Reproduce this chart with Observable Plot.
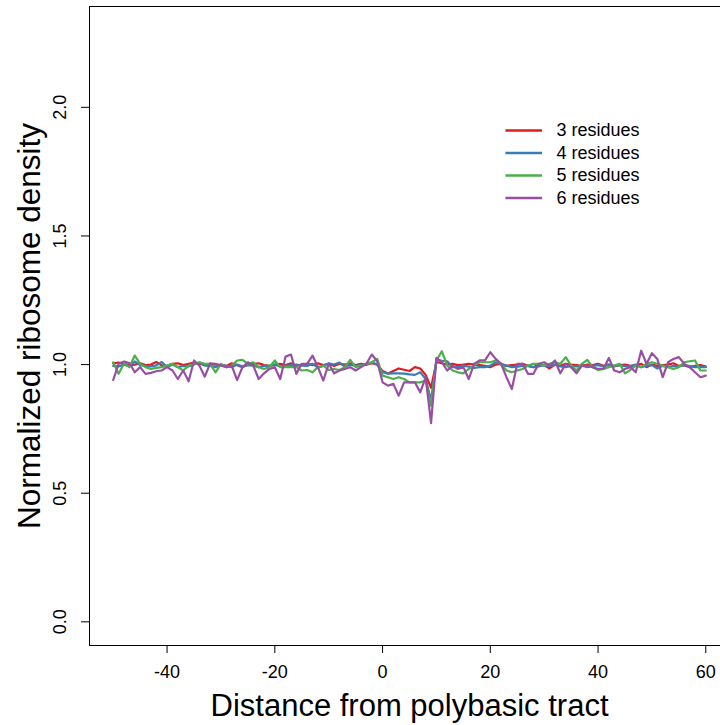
<!DOCTYPE html>
<html>
<head>
<meta charset="utf-8">
<script src="https://cdn.jsdelivr.net/npm/d3@7"></script>
<script src="https://cdn.jsdelivr.net/npm/@observablehq/plot@0.6"></script>
<style>
  html, body { margin: 0; padding: 0; background: white; overflow: hidden; }
  #chart { width: 720px; height: 725px; overflow: hidden; }
  #chart svg { max-width: none !important; }
</style>
</head>
<body>
<div id="chart"></div>
<script>
// ---- Data ----
const positions = d3.range(-50, 61); // -50 .. 60

const series = ["3 residues", "4 residues", "5 residues", "6 residues"];
const colors = ["#E41A1C", "#377EB8", "#4DAF4A", "#984EA3"];

const res3 = [
  1.005, 1.008, 1.003, 0.998, 1.000, 1.005, 0.998, 1.000, 1.010, 0.997,
  0.995, 1.003, 1.005, 0.998, 1.003, 1.008, 1.003, 1.000, 1.003, 1.000,
  0.998, 0.995, 1.005, 0.998, 0.990, 1.000, 1.003, 1.005, 0.998, 0.995,
  1.000, 1.003, 0.998, 1.005, 0.995, 1.000, 1.003, 0.998, 1.005, 0.998,
  1.003, 0.995, 1.003, 1.000, 1.005, 0.998, 1.003, 1.000, 1.005, 1.000,
  0.975, 0.965, 0.975, 0.985, 0.980, 0.975, 0.990, 0.985, 0.960, 0.910,
  1.010, 1.005, 1.000, 1.003, 0.998, 1.000, 1.003, 1.000, 0.998, 0.995,
  0.990, 1.000, 1.003, 0.995, 0.998, 1.000, 1.003, 0.995, 0.990, 1.000,
  0.998, 0.985, 1.000, 0.995, 1.003, 1.000, 0.998, 0.995, 1.000, 0.998,
  1.003, 0.995, 1.000, 0.993, 0.998, 1.000, 0.995, 0.998, 1.003, 0.990,
  1.000, 0.995, 0.998, 1.000, 1.005, 0.995, 0.998, 0.990, 0.995, 0.998,
  0.992
];

const res4 = [
  0.995, 0.993, 1.000, 0.994, 1.012, 0.998, 0.995, 0.993, 0.997, 1.010,
  0.990, 1.000, 0.990, 0.995, 0.993, 1.000, 1.008, 0.996, 0.995, 0.990,
  1.000, 0.995, 0.990, 1.000, 0.993, 0.998, 0.996, 0.990, 0.995, 0.995,
  1.000, 0.993, 0.995, 0.998, 1.000, 0.996, 0.995, 1.003, 0.988, 0.995,
  1.005, 1.000, 1.008, 0.992, 1.000, 0.995, 0.998, 1.000, 1.009, 1.000,
  0.970, 0.965, 0.966, 0.966, 0.965, 0.962, 0.960, 0.970, 0.945, 0.860,
  1.020, 1.015, 1.013, 0.990, 0.990, 0.996, 0.992, 0.987, 0.990, 0.990,
  0.996, 1.009, 1.000, 0.996, 0.990, 0.992, 0.995, 0.995, 0.990, 0.993,
  0.998, 0.995, 1.000, 0.993, 0.990, 0.995, 0.993, 0.996, 0.990, 0.995,
  0.998, 0.993, 1.000, 0.995, 0.998, 0.994, 0.993, 1.000, 0.990, 0.996,
  0.998, 0.985, 0.995, 0.990, 0.995, 0.993, 0.998, 0.994, 0.990, 0.990,
  0.990
];

const res5 = [
  1.009, 0.964, 1.003, 0.990, 1.035, 1.003, 0.990, 0.983, 0.987, 0.990,
  0.996, 1.003, 0.990, 0.977, 0.996, 1.003, 1.009, 1.003, 1.003, 0.970,
  1.003, 0.990, 0.996, 1.016, 1.018, 1.003, 1.009, 0.990, 0.983, 0.990,
  1.016, 0.990, 0.990, 0.990, 0.990, 0.977, 0.979, 0.970, 0.990, 0.996,
  0.979, 0.983, 0.979, 0.990, 1.018, 0.990, 0.996, 1.003, 1.009, 1.022,
  0.957, 0.951, 0.944, 0.951, 0.944, 0.931, 0.931, 0.931, 0.938, 0.840,
  1.016, 1.052, 0.996, 0.977, 0.970, 0.966, 0.983, 0.996, 1.009, 1.009,
  1.009, 1.016, 1.003, 0.977, 0.970, 0.977, 0.983, 0.996, 1.003, 1.003,
  0.996, 1.003, 1.009, 1.003, 1.029, 0.996, 0.977, 1.003, 1.018, 0.990,
  0.979, 0.983, 0.990, 0.996, 1.003, 0.966, 0.979, 0.996, 0.990, 1.003,
  1.009, 1.003, 0.996, 0.990, 0.983, 0.990, 1.009, 1.013, 1.016, 0.977,
  0.977
];

const res6 = [
  0.940, 1.003, 1.012, 1.006, 0.970, 0.990, 0.964, 0.968, 0.974, 0.977,
  0.990, 0.977, 0.944, 0.977, 0.935, 1.016, 0.996, 0.953, 1.005, 1.003,
  0.996, 0.990, 0.996, 0.940, 0.990, 1.009, 0.996, 0.944, 0.966, 0.983,
  0.990, 0.944, 1.031, 1.039, 0.964, 1.003, 1.003, 1.035, 0.990, 0.938,
  1.003, 0.966, 0.977, 0.983, 0.990, 0.977, 0.990, 1.003, 1.039, 1.013,
  0.931, 0.918, 0.925, 0.879, 0.931, 0.931, 0.931, 0.892, 0.951, 0.772,
  1.026, 1.009, 0.977, 0.996, 0.983, 0.990, 0.944, 1.003, 1.016, 1.016,
  1.048, 1.022, 1.003, 0.951, 0.905, 1.003, 1.003, 0.964, 0.964, 1.003,
  1.009, 0.996, 1.016, 0.966, 1.003, 0.990, 0.966, 0.996, 0.996, 0.990,
  0.983, 0.983, 1.026, 0.977, 0.970, 0.983, 0.990, 0.970, 1.054, 1.003,
  1.044, 1.022, 0.951, 1.009, 1.022, 1.029, 1.003, 0.990, 0.970, 0.951,
  0.957
];

const xTicks = [-40, -20, 0, 20, 40, 60];
const yTicks = [0, 0.5, 1.0, 1.5, 2.0];
const xTitle = "Distance from polybasic tract";
const yTitle = "Normalized ribosome density";

// ---- Build long table ----
const allSeries = [res3, res4, res5, res6];
allSeries.forEach((s, i) => {
  if (s.length !== positions.length) throw new Error(series[i] + " has " + s.length + " values");
});
const rows = [];
allSeries.forEach((vals, si) => {
  vals.forEach((v, i) => rows.push({series: series[si], x: positions[i], value: v}));
});

// legend placement (data units)
const legX1 = 22.8, legX2 = 29.6, legTextX = 32.3, legY0 = 1.910, legStep = 0.0875;
const legend = series.map((s, i) => ({series: s, y: legY0 - i * legStep}));

const hyphenFormat = d => (d < 0 ? "-" + Math.abs(d) : String(d));

const chart = Plot.plot({
  width: 730,
  height: 725,
  marginLeft: 89,
  marginRight: 1,
  marginTop: 6,
  marginBottom: 80,
  style: {fontFamily: "'Liberation Sans', Arial, sans-serif", fontSize: "18px", background: "white", color: "black", maxWidth: "none"},
  x: {domain: [-54.4, 64.4]},
  y: {domain: [-0.092, 2.392]},
  color: {domain: series, range: colors},
  marks: [
    Plot.frame({stroke: "black", strokeWidth: 1}),
    Plot.axisX(xTicks, {tickSize: 8, tickPadding: 12, fontSize: 18, label: null, stroke: "black", tickFormat: hyphenFormat}),
    Plot.axisY(yTicks, {tickSize: 8, tickFormat: () => "", label: null, stroke: "black"}),
    Plot.text(yTicks, {y: d => d, text: d => d.toFixed(1), frameAnchor: "left", dx: -29, rotate: -90, textAnchor: "middle", lineAnchor: "middle", fontSize: 18, fill: "black"}),
    Plot.lineY(rows, {x: "x", y: "value", z: "series", stroke: "series", strokeWidth: 2.2}),
    Plot.link(legend, {x1: legX1, x2: legX2, y1: "y", y2: "y", stroke: "series", strokeWidth: 2.6}),
    Plot.text(legend, {x: legTextX, y: "y", text: "series", textAnchor: "start", fontSize: 18, fill: "black"}),
    Plot.text([xTitle], {frameAnchor: "bottom", dy: 61, textAnchor: "middle", lineAnchor: "middle", fontSize: 31, fill: "black"}),
    Plot.text([yTitle], {frameAnchor: "left", dx: -60, rotate: -90, textAnchor: "middle", lineAnchor: "middle", fontSize: 31.5, fill: "black"})
  ]
});
document.getElementById("chart").appendChild(chart);
</script>
</body>
</html>
